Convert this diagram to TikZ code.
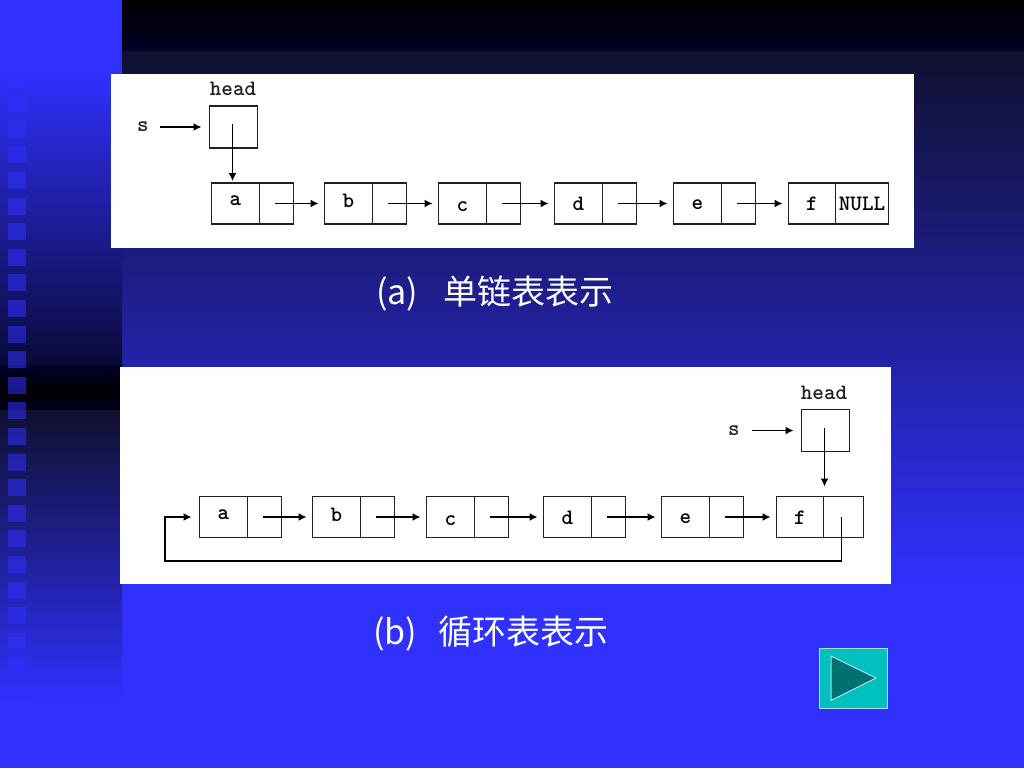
\documentclass[tikz,border=0pt]{standalone}
\usepackage{fontspec}
\newfontfamily\cjk{Noto Sans CJK SC}
\usepackage{tikz}
\usetikzlibrary{arrows.meta}
\usetikzlibrary{positioning}
\definecolor{slideblue}{RGB}{48,48,255}
\definecolor{nightblue}{RGB}{16,16,48}
\definecolor{inkblue}{RGB}{0,0,40}
\definecolor{midnight}{RGB}{10,10,56}
\definecolor{inkgrey}{RGB}{32,32,32}
\definecolor{buttonteal}{RGB}{0,192,192}
\definecolor{buttondark}{RGB}{0,112,112}
\definecolor{buttonedge}{RGB}{170,225,240}
\tikzset{
  datacell/.style={draw=inkgrey, line width=1.4pt, anchor=west, inner sep=0pt, outer sep=0pt,
    minimum height=41pt, minimum width=48pt, text height=8pt, text depth=0pt,
    font=\ttfamily\bfseries\fontsize{22}{24}\selectfont},
  ptrcell/.style={datacell, minimum width=34pt},
  headcell/.style={datacell, minimum width=48pt, minimum height=42pt},
  plainlabel/.style={inner sep=0pt, text height=9pt, text depth=0pt, text=inkgrey,
    font=\ttfamily\bfseries\fontsize{22}{24}\selectfont},
  ptr/.style={draw=black, line width=1.4pt, -{Latex[length=8pt,width=8pt]}},
  caption/.style={text=white, anchor=west, inner sep=0pt,
    font=\cjk\fontsize{34}{38}\selectfont}
}
\begin{document}
\begin{tikzpicture}[x=1pt,y=-1pt]
\useasboundingbox (0,0) rectangle (1024,768);
% slide background
\fill[slideblue] (0,0) rectangle (1024,768);
\shade[top color=black, bottom color=inkblue] (122,0) rectangle (1024,52.5);
\shade[top color=nightblue, bottom color=slideblue] (122,52) rectangle (1024,584);
\shade[top color=slideblue, bottom color=midnight] (0,70) rectangle (122,366);
\shade[top color=inkblue, bottom color=black] (0,365) rectangle (122,395);
\shade[top color=black, bottom color=inkblue] (0,394) rectangle (122,411);
\shade[top color=nightblue, bottom color=slideblue] (0,410) rectangle (122,700);
% squares down the left side
\foreach \i in {0, 1, ..., 24} {
    \fill[slideblue, opacity=0.55] (8,{69.5+\i*25.6}) rectangle ++(18,17);
}
% white panels
\fill[white] (111,74) rectangle (914,248);
\fill[white] (120,367) rectangle (891,584);
% list (a)
\node[headcell] (uhead) at (209.5,127) {};
\node[plainlabel] (uname) at (233,91) {head};
\node[plainlabel] (us) at (143,127) {s};
\foreach \nm/\xa/\dy in {a/211.5/2, b/324.5/0, c/438.5/-4, d/554.5/-3, e/673.5/-2} {
    \node[datacell] (u\nm D) at (\xa,203.5) {\raisebox{\dy pt}[0pt][0pt]{\nm}};
    \node[ptrcell, right=0pt of u\nm D] (u\nm P) {};
}
\node[datacell, minimum width=47pt] (ufD) at (788.5,203.5) {\raisebox{-3pt}[0pt][0pt]{f}};
\node[ptrcell, minimum width=53pt, right=0pt of ufD] (ufP) {\raisebox{-3pt}[0pt][0pt]{NULL}};
\draw[ptr] ([xshift=11pt]us.east) -- ([xshift=-8pt]uhead.west);
\draw[ptr] ([xshift=-1pt,yshift=3pt]uhead.center) -- ([xshift=-1pt,yshift=2pt]uhead.center |- uaD.north);
\foreach \cur/\nxt in {a/b, b/c, c/d, d/e, e/f} {
    \draw[ptr] ([xshift=-2pt]u\cur P.center) -- ([xshift=-6pt]u\nxt D.west);
}
\node[caption] (ucap) at (376,293) {(a)\hspace{25pt}单链表表示};
% list (b)
\node[headcell] (vhead) at (801.5,430.5) {};
\node[plainlabel] (vname) at (824,395) {head};
\node[plainlabel] (vs) at (734,430.5) {s};
\foreach \nm/\xa/\dy in {a/199.5/2, b/312.5/0, c/426.5/-4, d/543.5/-3, e/661.5/-2} {
    \node[datacell] (v\nm D) at (\xa,517) {\raisebox{\dy pt}[0pt][0pt]{\nm}};
    \node[ptrcell, right=0pt of v\nm D] (v\nm P) {};
}
\node[datacell, minimum width=47pt] (vfD) at (776.5,517) {\raisebox{-3pt}[0pt][0pt]{f}};
\node[ptrcell, minimum width=40pt, right=0pt of vfD] (vfP) {};
\draw[ptr] ([xshift=12pt]vs.east) -- ([xshift=-8pt]vhead.west);
\draw[ptr] ([xshift=-1pt,yshift=3pt]vhead.center) -- ([xshift=-1pt,yshift=10pt]vhead.center |- vfD.north);
\foreach \cur/\nxt in {a/b, b/c, c/d, d/e, e/f} {
    \draw[ptr] ([xshift=-2pt]v\cur P.center) -- ([xshift=-6pt]v\nxt D.west);
}
\coordinate (vcorner) at (165,561);
\draw[ptr] ([xshift=-2pt]vfP.center) |- (vcorner) |- ([xshift=-8pt]vaD.west);
\node[caption] (vcap) at (373,634) {(b)\hspace{21pt}循环表表示};
% next button
\draw[buttonedge, fill=buttonteal, line width=1pt] (819,648.5) rectangle (887.5,708);
\draw[buttonedge, fill=buttondark, line width=1pt] (831,656) -- (876,678) -- (831,700.5) -- cycle;
\end{tikzpicture}
\end{document}
